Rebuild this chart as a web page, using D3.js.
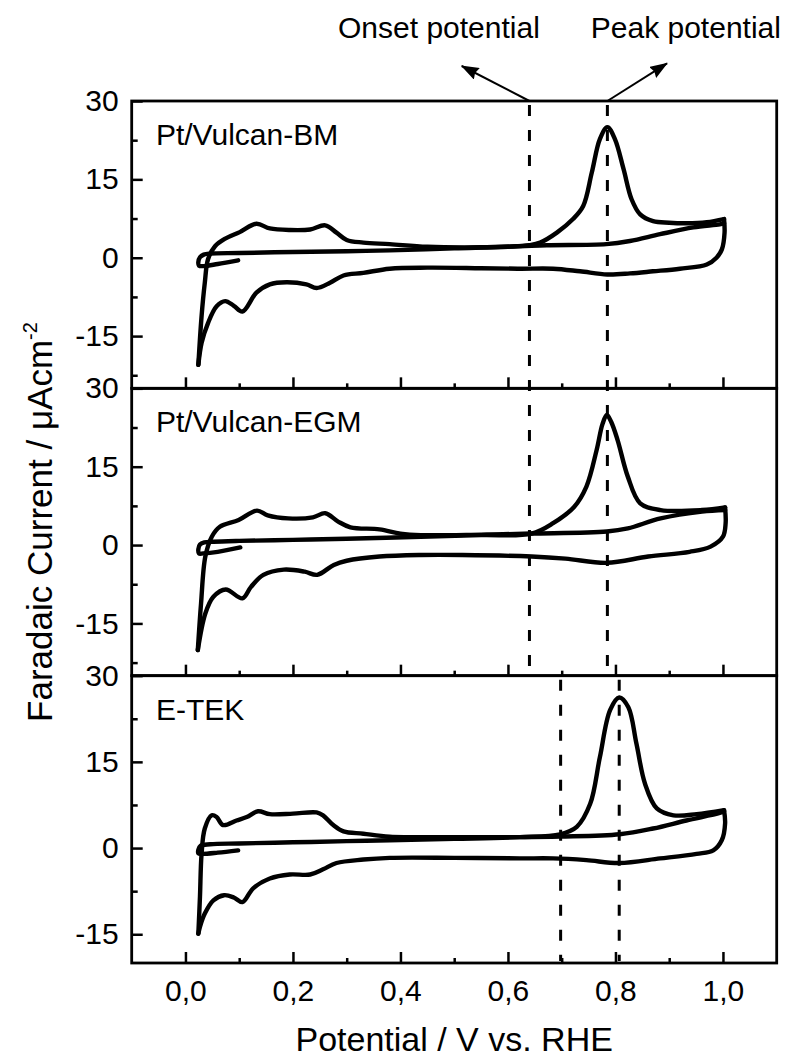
<!DOCTYPE html>
<html><head><meta charset="utf-8">
<script src="https://cdn.jsdelivr.net/npm/d3@7"></script>
<style>
html,body{margin:0;padding:0;background:#fff;}
svg{display:block;font-family:"Liberation Sans",Arial,Helvetica,sans-serif;}
</style></head>
<body>
<svg id="chart" width="787" height="1061"></svg>
<script>
// ---------- data ----------
const panelNames = ["Pt/Vulcan-BM", "Pt/Vulcan-EGM", "E-TEK"];
const xTickValues = [0.0, 0.2, 0.4, 0.6, 0.8, 1.0];
const xTickLabels = ["0,0", "0,2", "0,4", "0,6", "0,8", "1,0"];
const yTickValues = [30, 15, 0, -15];
const yTickLabels = ["30", "15", "0", "-15"];
const yDomains = [[-25, 30], [-25, 30], [-20, 30]];
const onsetPotential = [0.64, 0.64, 0.698];
const peakPotential = [0.785, 0.785, 0.807];

// Pt/Vulcan-BM
const bmScan1V = [0.098,0.06,0.035,0.025,0.024,0.027,0.034,0.046,0.10,0.20,0.30,0.38,0.50,0.60,0.64,0.66,0.691,0.721,0.740,0.756,0.771,0.785,0.799,0.815,0.830,0.846,0.870,0.900,0.932,0.970,1.002];
const bmScan1I = [-0.5,-1.2,-1.6,-1.5,-0.8,0.1,0.6,0.8,0.9,1.1,1.25,1.4,1.8,2.1,2.4,2.9,4.8,7.4,9.9,16.3,22.7,25.0,22.7,17.0,11.2,8.3,7.0,6.7,6.6,6.8,7.4];
const bmRevV = [1.002,1.003,0.998,0.988,0.970,0.92,0.870,0.827,0.785,0.734,0.684,0.622,0.55,0.45,0.38,0.331,0.294,0.269,0.244,0.225,0.188,0.157,0.132,0.106,0.090,0.074,0.058,0.042,0.030,0.024];
const bmRevI = [7.4,4.8,1.6,0,-1.3,-2.1,-2.6,-3.0,-3.2,-2.6,-2.1,-2.1,-2.0,-1.9,-2.1,-2.9,-3.4,-4.8,-5.8,-5.1,-4.7,-5.1,-6.7,-10.3,-9.2,-8.3,-9.3,-12.5,-16.3,-20.5];
const bmScan2V = [0.024,0.030,0.036,0.042,0.055,0.073,0.101,0.132,0.157,0.194,0.232,0.260,0.281,0.30,0.331,0.38,0.45,0.55,0.622,0.672,0.783,0.827,0.883,0.945,0.994,1.002];
const bmScan2I = [-20.5,-11.2,-4.8,-0.3,2.2,3.6,4.9,6.5,5.6,5.3,5.4,6.2,4.8,3.4,2.9,2.6,2.1,2.0,2.2,2.4,2.6,3.2,4.5,5.8,6.4,6.6];

// Pt/Vulcan-EGM
const egmScan1V = [0.102,0.06,0.033,0.025,0.024,0.027,0.035,0.052,0.10,0.20,0.30,0.438,0.55,0.644,0.684,0.723,0.746,0.765,0.776,0.784,0.792,0.804,0.823,0.846,0.884,0.961,1.004];
const egmScan1I = [-0.45,-1.3,-1.6,-1.6,-0.8,0.1,0.5,0.64,0.8,1.0,1.2,1.6,1.9,2.2,4.2,7.3,11.2,18.2,23.2,24.9,23.6,20.1,13.1,8.0,6.7,6.7,7.2];
const egmRevV = [1.004,1.005,1.0,0.977,0.938,0.861,0.784,0.707,0.644,0.515,0.438,0.361,0.30,0.276,0.245,0.222,0.183,0.145,0.122,0.106,0.075,0.052,0.037,0.023];
const egmRevI = [7.2,4.2,1.6,-0.3,-1.3,-2.2,-3.4,-2.6,-2.2,-1.9,-1.9,-2.2,-3.0,-3.8,-5.7,-5.1,-4.7,-5.7,-8.0,-10.2,-8.5,-9.9,-13.1,-20.1];
const egmScan2V = [0.023,0.029,0.037,0.049,0.064,0.099,0.133,0.153,0.191,0.237,0.260,0.284,0.307,0.361,0.40,0.438,0.55,0.644,0.784,0.823,0.884,0.961,1.004];
const egmScan2I = [-20.1,-11.2,-2.2,1.6,3.5,4.8,6.6,5.7,5.1,5.3,6.1,4.5,3.4,3.0,2.2,1.9,2.0,2.2,2.6,3.2,5.1,6.4,6.7];

// E-TEK
const etScan1V = [0.098,0.06,0.030,0.024,0.024,0.028,0.046,0.10,0.20,0.30,0.38,0.50,0.622,0.697,0.728,0.753,0.771,0.790,0.807,0.824,0.839,0.855,0.877,0.908,0.951,1.002];
const etScan1I = [-0.4,-0.8,-1.0,-0.9,-0.3,0.4,0.66,0.8,1.0,1.2,1.36,1.6,1.9,2.4,3.7,7.7,15.8,24.0,26.2,24.5,18.2,11.2,6.9,5.7,5.9,6.6];
const etRevV = [1.002,1.004,0.998,0.982,0.951,0.883,0.807,0.746,0.684,0.622,0.50,0.38,0.331,0.281,0.256,0.232,0.194,0.157,0.126,0.106,0.090,0.072,0.052,0.036,0.027,0.024];
const etRevI = [6.6,4.3,1.4,-0.4,-1.0,-1.8,-2.6,-2.1,-1.8,-1.8,-1.7,-1.7,-2.0,-2.6,-3.7,-4.6,-4.6,-5.3,-7.0,-9.4,-8.6,-8.2,-9.1,-11.4,-13.7,-14.9];
const etScan2V = [0.024,0.027,0.030,0.036,0.049,0.058,0.070,0.095,0.114,0.135,0.157,0.20,0.244,0.256,0.275,0.294,0.331,0.38,0.50,0.622,0.697,0.808,0.870,0.932,0.994,1.002];
const etScan2I = [-14.9,-8.5,-1.0,3.4,5.7,5.4,4.0,4.8,5.4,6.4,5.9,6.0,6.2,5.7,4.0,2.9,2.5,2.0,1.9,1.9,2.0,2.4,3.4,4.8,6.1,6.4];

// annotation (arrow tips / label positions in panel-1 data units)
const annoLabels = ["Onset potential", "Peak potential"];
const annoTipV = [0.514, 0.896];
const annoTipI = [36.7, 37.2];
const annoTextV = [0.4716, 0.931];
const annoTextI = [42.0, 42.0];

// ---------- layout ----------
const plotLeft = 131.7, plotRight = 776.7, plotTop = 101, plotBottom = 963;
const panelH = (plotBottom - plotTop) / 3;

const svg = d3.select("#chart");
const x = d3.scaleLinear().domain([-0.1, 1.1]).range([plotLeft, plotRight]);

const panels = [
  {segs: [[bmScan1V, bmScan1I], [bmRevV, bmRevI], [bmScan2V, bmScan2I]]},
  {segs: [[egmScan1V, egmScan1I], [egmRevV, egmRevI], [egmScan2V, egmScan2I]]},
  {segs: [[etScan1V, etScan1I], [etRevV, etRevI], [etScan2V, etScan2I]]}
];

const yScales = panels.map((p, i) =>
  d3.scaleLinear().domain(yDomains[i]).range([plotTop + (i + 1) * panelH, plotTop + i * panelH]));

const defs = svg.append("defs");
defs.append("marker").attr("id", "arrow").attr("viewBox", "0 0 18 13")
  .attr("refX", 17).attr("refY", 6.5).attr("markerWidth", 18).attr("markerHeight", 13)
  .attr("markerUnits", "userSpaceOnUse").attr("orient", "auto")
  .append("path").attr("d", "M0,0 L18,6.5 L0,13 L2,6.5 Z").attr("fill", "#000");

panels.forEach((p, i) => {
  const y = yScales[i];
  const g = svg.append("g");
  const y0 = y.range()[0], y1 = y.range()[1];

  // curves
  const line = d3.line().x(d => x(d[0])).y(d => y(d[1])).curve(d3.curveCatmullRom.alpha(0.5));
  p.segs.forEach(([vs, is]) => {
    g.append("path").datum(vs.map((v, k) => [v, is[k]]))
      .attr("d", line).attr("fill", "none").attr("stroke", "#000")
      .attr("stroke-width", 4.4).attr("stroke-linejoin", "round").attr("stroke-linecap", "round");
  });

  // dashed lines
  const dashTop = i < 2 ? yScales[0].range()[1] : y1;
  const dashBot = i < 2 ? yScales[1].range()[0] : y0;
  if (i !== 1) {
    [onsetPotential[i], peakPotential[i]].forEach(v => {
      svg.append("line").attr("x1", x(v)).attr("x2", x(v))
        .attr("y1", dashTop + 4).attr("y2", dashBot - 2)
        .attr("stroke", "#000").attr("stroke-width", 3).attr("stroke-dasharray", "11,14");
    });
  }

  // y axis major/minor
  const yAxis = d3.axisLeft(y).tickValues(yTickValues)
    .tickFormat((d, k) => yTickLabels[k]).tickSizeInner(-11).tickSizeOuter(0).tickPadding(13);
  const ya = g.append("g").attr("transform", `translate(${plotLeft},0)`).call(yAxis);
  ya.select(".domain").remove();
  ya.selectAll("line").attr("stroke-width", 2.5);
  ya.selectAll("text").attr("font-size", 30).attr("fill", "#000")
    .attr("font-family", "Liberation Sans, Arial, sans-serif");
  const minorVals = [22.5, 7.5, -7.5, -22.5].filter(v => v > yDomains[i][0] && v < yDomains[i][1]);
  const ym = g.append("g").attr("transform", `translate(${plotLeft},0)`)
    .call(d3.axisLeft(y).tickValues(minorVals).tickFormat("").tickSizeInner(-6).tickSizeOuter(0));
  ym.select(".domain").remove();
  ym.selectAll("line").attr("stroke-width", 2.5);

  // x axis (bottom of each panel, ticks inward)
  const xa = g.append("g").attr("transform", `translate(0,${y0})`)
    .call(d3.axisBottom(x).tickValues(xTickValues).tickFormat("").tickSizeInner(-11).tickSizeOuter(0));
  xa.select(".domain").remove();
  xa.selectAll("line").attr("stroke-width", 2.5);
  const xm = g.append("g").attr("transform", `translate(0,${y0})`)
    .call(d3.axisBottom(x).tickValues([0.1, 0.3, 0.5, 0.7, 0.9]).tickFormat("").tickSizeInner(-5).tickSizeOuter(0));
  xm.select(".domain").remove();
  xm.selectAll("line").attr("stroke-width", 2.5);

  // frame
  g.append("rect").attr("x", plotLeft).attr("y", y1).attr("width", plotRight - plotLeft).attr("height", y0 - y1)
    .attr("fill", "none").attr("stroke", "#000").attr("stroke-width", 2.8);

  // panel label
  g.append("text").attr("x", x(-0.055)).attr("y", y1 + 44)
    .attr("font-size", 30).attr("fill", "#000").text(panelNames[i]);
});

// bottom tick labels
const xl = svg.append("g").attr("transform", `translate(0,${plotBottom})`)
  .call(d3.axisBottom(x).tickValues(xTickValues).tickFormat((d, k) => xTickLabels[k]).tickSize(0).tickPadding(17));
xl.select(".domain").remove();
xl.selectAll("text").attr("font-size", 30).attr("fill", "#000")
  .attr("font-family", "Liberation Sans, Arial, sans-serif");

// axis titles
svg.append("text").attr("x", (plotLeft + plotRight) / 2).attr("y", 1051)
  .attr("text-anchor", "middle").attr("font-size", 34).text("Potential / V vs. RHE");
const yt = svg.append("text").attr("transform", `translate(52,522) rotate(-90)`)
  .attr("text-anchor", "middle").attr("font-size", 35);
yt.append("tspan").text("Faradaic Current / \u03BCAcm");
yt.append("tspan").attr("dy", -15).attr("font-size", 20).text("-2");

// annotations
const y1s = yScales[0];
[onsetPotential[0], peakPotential[0]].forEach((v, k) => {
  svg.append("line").attr("x1", x(v)).attr("y1", y1s(30))
    .attr("x2", x(annoTipV[k])).attr("y2", y1s(annoTipI[k]))
    .attr("stroke", "#000").attr("stroke-width", 2).attr("marker-end", "url(#arrow)");
  svg.append("text").attr("x", x(annoTextV[k])).attr("y", y1s(annoTextI[k]))
    .attr("text-anchor", "middle").attr("font-size", 30).text(annoLabels[k]);
});
</script>
</body></html>
